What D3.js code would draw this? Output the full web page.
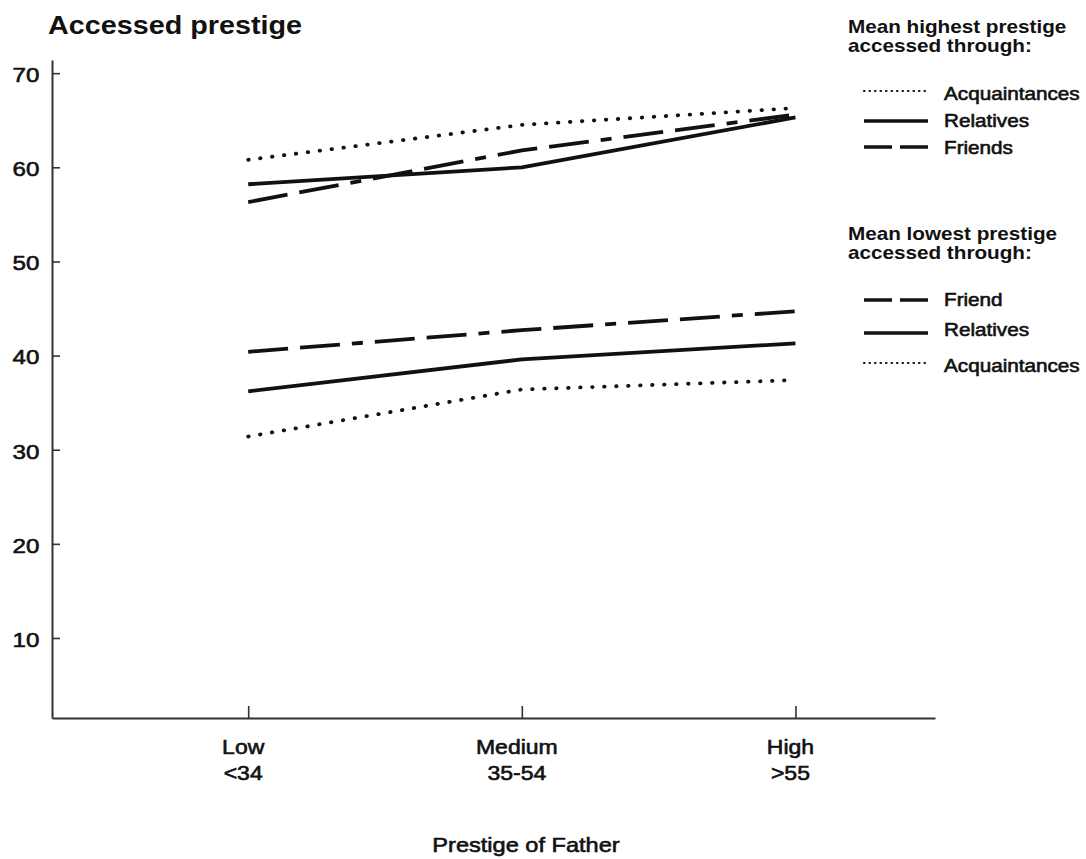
<!DOCTYPE html>
<html>
<head>
<meta charset="utf-8">
<script src="https://cdn.jsdelivr.net/npm/d3@7"></script>
<style>
  body { margin: 0; background: #fff; }
  svg text { font-family: "Liberation Sans", Arial, Helvetica, sans-serif; fill: #111; }
  svg text.heavy { stroke: #111; stroke-width: 0.6px; }
</style>
</head>
<body>
<div id="chart"></div>
<script>
// categories on the x axis (prestige of father)
var categories = ["Low", "Medium", "High"];
var categoryRanges = ["<34", "35-54", ">55"];
var yTicks = [10, 20, 30, 40, 50, 60, 70];

// mean highest prestige accessed through...
var highAcquaintances = [60.8, 64.5, 66.3];
var highRelatives = [58.2, 60.0, 65.3];
var highFriends = [56.3, 61.8, 65.6];

// mean lowest prestige accessed through...
var lowFriend = [40.4, 42.7, 44.7];
var lowRelatives = [36.2, 39.6, 41.3];
var lowAcquaintances = [31.4, 36.4, 37.4];

// text in the scan is a bit wider than the font, stretch it a little
var SX = 1.15;

var width = 1086, height = 859;

var svg = d3.select("#chart").append("svg")
    .attr("width", width)
    .attr("height", height);

// scales: index based so the axis line can run past the outer categories
var x = d3.scaleLinear()
    .domain([-0.717, 2.51])
    .range([52, 935]);

var y = d3.scaleLinear()
    .domain([1.5, 71.4])
    .range([718, 60]);

// line styles
var styles = {
    dotted: { width: 3.8, dash: "0.5,11.5", cap: "round" },
    solid:  { width: 3.8, dash: null, cap: "butt" },
    dashed: { width: 3.8, dash: "40,12,40,12,11,12", cap: "butt" }
};

var series = [
    { name: "highAcq", values: highAcquaintances, style: "dotted" },
    { name: "highRel", values: highRelatives, style: "solid" },
    { name: "highFri", values: highFriends, style: "dashed" },
    { name: "lowFri", values: lowFriend, style: "dashed" },
    { name: "lowRel", values: lowRelatives, style: "solid" },
    { name: "lowAcq", values: lowAcquaintances, style: "dotted" }
];

function addText(parent, px, py, str, size, weight, anchor) {
    return parent.append("text")
        .attr("class", weight == "bold" ? null : "heavy")
        .attr("transform", "translate(" + px + "," + py + ") scale(" + SX + ",1)")
        .attr("text-anchor", anchor || "start")
        .style("font-size", size + "px")
        .style("font-weight", weight || "normal")
        .text(str);
}

// title
addText(svg, 48, 34, "Accessed prestige", 25, "bold");

// y axis
var yAxis = d3.axisLeft(y)
    .tickValues(yTicks)
    .tickSizeInner(-8)
    .tickSizeOuter(0)
    .tickPadding(11);

var gy = svg.append("g")
    .attr("transform", "translate(52,0)")
    .call(yAxis);

gy.select(".domain").attr("stroke", "#333").attr("stroke-width", 2);
gy.selectAll(".tick line").attr("stroke", "#333").attr("stroke-width", 1.6);
gy.selectAll(".tick text")
    .attr("class", "heavy")
    .attr("fill", "#111")
    .attr("transform", "scale(" + SX + ",1)")
    .attr("dy", "0.4em")
    .style("font-size", "21px")
    .style("font-family", "'Liberation Sans', Arial, sans-serif");

// x axis
var xAxis = d3.axisBottom(x)
    .tickValues(d3.range(categories.length))
    .tickSizeInner(-12)
    .tickSizeOuter(0)
    .tickFormat("");

var gx = svg.append("g")
    .attr("transform", "translate(0," + y(1.5) + ")")
    .call(xAxis);

gx.select(".domain").attr("stroke", "#333").attr("stroke-width", 2);
gx.selectAll(".tick line").attr("stroke", "#333").attr("stroke-width", 1.6);

categories.forEach(function(c, i) {
    addText(svg, x(i) - 5, 754, c, 20, "normal", "middle");
    addText(svg, x(i) - 5, 780, categoryRanges[i], 20, "normal", "middle");
});

addText(svg, 526, 852, "Prestige of Father", 20.5, "normal", "middle");

// lines
var line = d3.line()
    .x(function(d, i) { return x(i); })
    .y(function(d) { return y(d); });

svg.selectAll(".series")
    .data(series)
    .enter().append("path")
    .attr("class", "series")
    .attr("fill", "none")
    .attr("stroke", "#111")
    .attr("stroke-width", function(d) { return styles[d.style].width; })
    .attr("stroke-dasharray", function(d) { return styles[d.style].dash; })
    .attr("stroke-linecap", function(d) { return styles[d.style].cap; })
    .attr("stroke-linejoin", "round")
    .attr("d", function(d) { return line(d.values); });

// legends
var legendStyles = {
    dotted: { width: 2.2, dash: "0.5,5", cap: "round" },
    solid:  { width: 3.4, dash: null, cap: "butt" },
    dashed: { width: 3.4, dash: "28,8", cap: "butt" }
};

function legend(heading, items, top, rows) {
    var g = svg.append("g");
    addText(g, 848, top, heading[0], 18, "bold");
    addText(g, 848, top + 19, heading[1], 18, "bold");
    items.forEach(function(it, i) {
        var s = legendStyles[it.style];
        g.append("line")
            .attr("x1", 864).attr("x2", 928)
            .attr("y1", rows[i].line).attr("y2", rows[i].line)
            .attr("stroke", "#111")
            .attr("stroke-width", s.width)
            .attr("stroke-dasharray", s.dash)
            .attr("stroke-linecap", s.cap);
        addText(g, 944, rows[i].text, it.label, 18, "normal");
    });
}

legend(["Mean highest prestige", "accessed through:"],
    [{ label: "Acquaintances", style: "dotted" },
     { label: "Relatives", style: "solid" },
     { label: "Friends", style: "dashed" }],
    33,
    [{ line: 91, text: 100 }, { line: 121, text: 127 }, { line: 147, text: 154 }]);

legend(["Mean lowest prestige", "accessed through:"],
    [{ label: "Friend", style: "dashed" },
     { label: "Relatives", style: "solid" },
     { label: "Acquaintances", style: "dotted" }],
    240,
    [{ line: 300, text: 306 }, { line: 333, text: 336 }, { line: 363, text: 372 }]);
</script>
</body>
</html>
